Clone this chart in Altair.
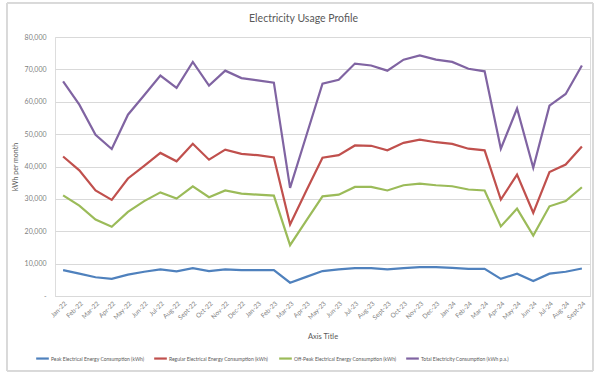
import altair as alt
import pandas as pd

months = ["Jan-22", "Feb-22", "Mar-22", "Apr-22", "May-22", "Jun-22", "Jul-22", "Aug-22",
          "Sept-22", "Oct-22", "Nov-22", "Dec-22", "Jan-23", "Feb-23", "Mar-23", "Apr-23",
          "May-23", "Jun-23", "Jul-23", "Aug-23", "Sept-23", "Oct-23", "Nov-23", "Dec-23",
          "Jan-24", "Feb-24", "Mar-24", "Apr-24", "May-24", "Jun-24", "Jul-24", "Aug-24", "Sept-24"]

peak = [8000, 6900, 5800, 5300, 6600, 7500, 8200, 7600, 8600, 7700, 8200, 8000, 8000, 8000,
        4100, 5900, 7700, 8200, 8600, 8600, 8200, 8600, 8900, 8900, 8700, 8400, 8400,
        5300, 6900, 4600, 6900, 7500, 8500]

regular = [43100, 38800, 32600, 29700, 36300, 40200, 44200, 41600, 47000, 42100, 45200, 43900,
           43500, 42800, 22100, 32500, 42700, 43500, 46500, 46400, 45000, 47300, 48300, 47500,
           47000, 45500, 45000, 29800, 37500, 25700, 38300, 40600, 46200]

offpeak = [31100, 27900, 23600, 21400, 26000, 29300, 32000, 30100, 33900, 30500, 32600, 31600,
           31300, 31000, 15700, 23300, 30800, 31300, 33700, 33700, 32600, 34200, 34700, 34200,
           33900, 32900, 32600, 21500, 27000, 18700, 27700, 29300, 33600]

total = [66300, 59100, 49800, 45400, 56000, 62000, 68100, 64300, 72300, 65000, 69600, 67300,
         66600, 65900, 33400, 49500, 65600, 66800, 71800, 71200, 69600, 73000, 74300, 73000,
         72300, 70200, 69400, 45500, 57900, 39600, 58800, 62400, 71200]

series_names = ["Peak Electrical Energy Consumption (kWh)",
                "Regular  Electrical Energy Consumption (kWh)",
                "Off-Peak Electrical Energy Consumption (kWh)",
                "Total Electricity Consumption (kWh p.a.)"]
series_colors = ["#4F81BD", "#C0504D", "#9BBB59", "#8064A2"]

rows = []
for name, vals in zip(series_names, [peak, regular, offpeak, total]):
    for i, (m, v) in enumerate(zip(months, vals)):
        rows.append({"Month": m, "Series": name, "Value": v, "order": i})
df = pd.DataFrame(rows)

FONT = "Lato"
GRAY = "#595959"

lines = alt.Chart(df).mark_line(strokeWidth=2.2).encode(
    x=alt.X("Month:N", sort=months,
            scale=alt.Scale(type="point", padding=0.5),
            axis=alt.Axis(title="Axis Title", labelAngle=-45, labelFontSize=6.5,
                          labelColor="#7f7f7f", titleFontSize=7.5, titleColor=GRAY,
                          titleFontWeight="normal", titlePadding=12,
                          labelFont=FONT, titleFont=FONT,
                          domainColor="#d9d9d9", ticks=False, labelPadding=4,
                          grid=False)),
    y=alt.Y("Value:Q", scale=alt.Scale(domain=[0, 80000], nice=False),
            axis=alt.Axis(title="kWh per month", values=list(range(0, 80001, 10000)),
                          labelExpr="datum.value == 0 ? '-' : format(datum.value, ',')",
                          labelFontSize=7, labelColor="#7f7f7f", labelFont=FONT,
                          titleFont=FONT, titleFontSize=7, titleColor=GRAY,
                          titleFontWeight="normal", titlePadding=6,
                          domain=False, ticks=False, labelPadding=9,
                          gridColor="#d9d9d9", gridWidth=1)),
    color=alt.Color("Series:N", sort=series_names,
                    scale=alt.Scale(domain=series_names, range=series_colors),
                    legend=alt.Legend(title=None, orient="none", legendX=-20, legendY=314,
                                      direction="horizontal", columns=4,
                                      symbolType="stroke", symbolSize=160,
                                      symbolStrokeWidth=2.2, labelFontSize=5.0,
                                      labelColor=GRAY, labelFont=FONT,
                                      labelLimit=300, columnPadding=4,
                                      symbolOffset=0, labelOffset=1)),
    order="order:Q",
)

frame = alt.Chart(df).mark_rect(fill=None, stroke="#d9d9d9", strokeWidth=1).encode(
    x=alt.value(-48), x2=alt.value(538), y=alt.value(-34), y2=alt.value(334)
)

chart = alt.layer(frame, lines).properties(
    width=535, height=259,
    title=alt.TitleParams("Electricity Usage Profile", fontSize=10.5, color=GRAY,
                          font=FONT, fontWeight="normal", offset=-22, anchor="middle",
                          dx=-19),
    autosize=alt.AutoSizeParams(type="none"),
    padding={"left": 55, "top": 37, "right": 11, "bottom": 77},
).configure_view(stroke=None).configure(background="white")

chart.save("out.html", embed_options={"renderer": "svg", "actions": False})
